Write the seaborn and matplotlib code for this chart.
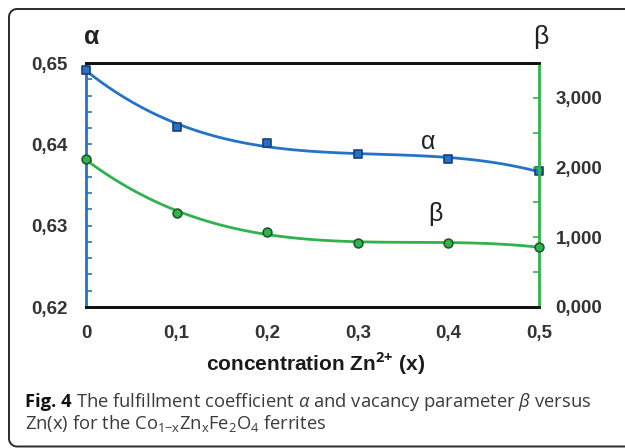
import numpy as np
import pandas as pd
import seaborn as sns
import matplotlib
matplotlib.use("Agg")
import matplotlib.pyplot as plt
from matplotlib.ticker import MultipleLocator, FuncFormatter

# Zn concentration x and the two measured parameters
zn_x = [0.0, 0.1, 0.2, 0.3, 0.4, 0.5]
alpha_vals = [0.6492, 0.6421, 0.6402, 0.6388, 0.6382, 0.6367]
beta_vals = [2.12, 1.35, 1.08, 0.92, 0.92, 0.86]

x_ticks = [0.0, 0.1, 0.2, 0.3, 0.4, 0.5]
alpha_ticks = [0.62, 0.63, 0.64, 0.65]
beta_ticks = [0.0, 1.0, 2.0, 3.0]

df = pd.DataFrame({"x": zn_x, "alpha": alpha_vals, "beta": beta_vals})

sns.set_theme(style="white")
plt.rcParams["font.family"] = ["Liberation Sans", "DejaVu Sans"]
plt.rcParams["mathtext.fontset"] = "custom"
plt.rcParams["mathtext.rm"] = "Open Sans"
plt.rcParams["mathtext.it"] = "Open Sans:italic"
plt.rcParams["mathtext.bf"] = "Open Sans:bold"

W, H = 625, 448
fig = plt.figure(figsize=(W / 100, H / 100), dpi=100)
fig.patch.set_facecolor("white")

# outer figure frame: open on the right, rounded corners on the left
bg = fig.add_axes([0, 0, 1, 1])
bg.set_xlim(0, W)
bg.set_ylim(H, 0)
bg.axis("off")
r, x0, y0, y1 = 8.0, 9.0, 9.0, 446.5
t_top = np.linspace(np.pi / 2, np.pi, 12)
t_bot = np.linspace(np.pi, 3 * np.pi / 2, 12)
fx = np.concatenate([[W + 5], x0 + r + r * np.cos(t_top),
                     x0 + r + r * np.cos(t_bot), [W + 5]])
fy = np.concatenate([[y0], y0 + r - r * np.sin(t_top),
                     y1 - r - r * np.sin(t_bot), [y1]])
bg.plot(fx, fy, color="#2a2a2a", lw=1.4, solid_capstyle="butt")

ax = fig.add_axes([86 / W, 1 - 307 / H, (539 - 86) / W, (307 - 63) / H])
ax2 = ax.twinx()

blue = "#2473c8"
green = "#30b34d"
tick_col = "#333333"

# alpha: smooth polynomial fit plus square markers
sns.regplot(data=df, x="x", y="alpha", order=3, ci=None, ax=ax, scatter=False,
            line_kws=dict(color=blue, lw=2.0, zorder=3))
sns.scatterplot(data=df, x="x", y="alpha", ax=ax, marker="s", s=40,
                color=blue, edgecolor="#1b3f75", linewidth=1.2, zorder=4,
                clip_on=False)

# beta: smooth polynomial fit plus round markers
sns.regplot(data=df, x="x", y="beta", order=3, ci=None, ax=ax2, scatter=False,
            line_kws=dict(color=green, lw=2.0, zorder=3))
sns.scatterplot(data=df, x="x", y="beta", ax=ax2, marker="o", s=40,
                color=green, edgecolor="#1f5a2a", linewidth=1.2, zorder=4,
                clip_on=False)

ax.set_xlim(0, 0.5)
ax.set_ylim(0.62, 0.65)
ax2.set_ylim(0, 3.5)

comma = lambda fmt: FuncFormatter(lambda v, p: (fmt % v).replace(".", ","))
ax.set_xticks(x_ticks)
ax.xaxis.set_major_formatter(FuncFormatter(
    lambda v, p: "0" if abs(v) < 1e-9 else ("%.1f" % v).replace(".", ",")))
ax.set_yticks(alpha_ticks)
ax.yaxis.set_major_formatter(comma("%.2f"))
ax.yaxis.set_minor_locator(MultipleLocator(0.002))
ax2.set_yticks(beta_ticks)
ax2.yaxis.set_major_formatter(comma("%.3f"))
ax2.yaxis.set_minor_locator(MultipleLocator(0.5))

for a in (ax, ax2):
    a.set_xlabel("")
    a.set_ylabel("")
    a.grid(False)
    a.set_facecolor("none")

ax.tick_params(axis="x", direction="in", length=4, width=1.2, color="#222222",
               pad=13, labelsize=13.5, labelcolor=tick_col, top=False)
ax.tick_params(axis="y", which="both", direction="in", length=4, width=1.2,
               color=blue, pad=13, labelsize=13.5, labelcolor=tick_col)
ax2.tick_params(axis="y", which="both", direction="in", length=4, width=1.2,
                color=green, pad=12, labelsize=13.5, labelcolor=tick_col)
for lbl in ax.get_xticklabels() + ax.get_yticklabels() + ax2.get_yticklabels():
    lbl.set_fontweight("bold")

for a in (ax, ax2):
    for side in ("top", "bottom"):
        a.spines[side].set_color("#111111")
        a.spines[side].set_linewidth(2.0)
    a.spines["left"].set_color(blue)
    a.spines["left"].set_linewidth(2.0)
    a.spines["right"].set_color(green)
    a.spines["right"].set_linewidth(2.0)
ax2.spines["left"].set_visible(False)
ax.spines["right"].set_visible(False)

# axis names above the two vertical axes
fig.text(92 / W, 1 - 37 / H, "α", fontsize=18, fontweight="bold",
         color="#222222", ha="center", va="center")
fig.text(541 / W, 1 - 37 / H, "β", fontsize=19, color="#222222",
         ha="center", va="center")

# curve labels inside the plot
fig.text(428 / W, 1 - 142 / H, "α", fontsize=18, color="#222222",
         ha="center", va="center")
fig.text(435 / W, 1 - 214 / H, "β", fontsize=18, color="#222222",
         ha="center", va="center")

plt.rcParams["mathtext.bf"] = "Liberation Sans:bold"
fig.text(316 / W, 1 - 364 / H, "concentration Zn$^{\\mathbf{2{+}}}$ (x)",
         fontsize=15, fontweight="bold", color="#1a1a1a",
         ha="center", va="center")
plt.rcParams["mathtext.bf"] = "Open Sans:bold"

# figure caption: bold figure number, then the description
renderer = fig.canvas.get_renderer()
fig_no = fig.text(25 / W, 1 - 402 / H, "Fig. 4 ", fontsize=13.2,
                  fontweight="bold", color="#111111", family="Open Sans",
                  ha="left", va="center")
ext = fig_no.get_window_extent(renderer)
cap1 = (r"The fulfillment coefficient $\alpha$ and "
        r"vacancy parameter $\beta$ versus")
cap2 = (r"Zn(x) for the Co$_{\mathrm{1{-}x}}$Zn$_{\mathrm{x}}$"
        r"Fe$_{\mathrm{2}}$O$_{\mathrm{4}}$ ferrites")
fig.text(ext.x1 / W, 1 - 402 / H, cap1, fontsize=13.2, color="#3a3a3a",
         family="Open Sans", ha="left", va="center")
fig.text(25 / W, 1 - 423 / H, cap2, fontsize=13.2, color="#3a3a3a",
         family="Open Sans", ha="left", va="center")

fig.savefig("out.png", dpi=100, facecolor="white")
